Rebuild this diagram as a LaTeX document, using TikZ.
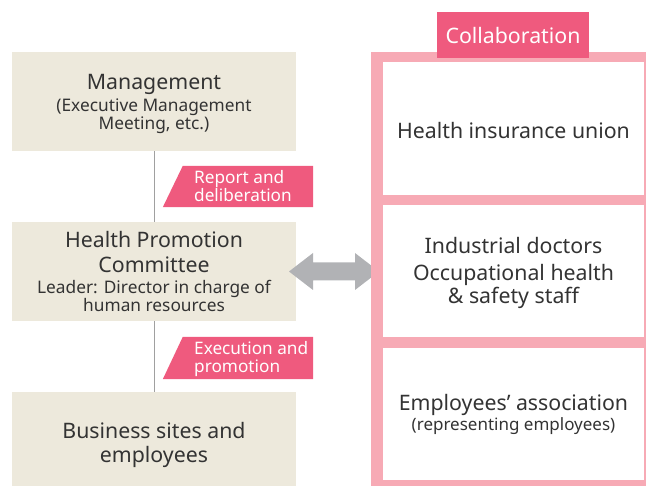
\documentclass[tikz,border=0pt]{standalone}
\usepackage{fontspec}
\setmainfont{Noto Sans}
\definecolor{beige}{HTML}{EDE9DC}
\definecolor{lblpink}{HTML}{EF5A7E}
\definecolor{frpink}{HTML}{F7AAB5}
\definecolor{arrgray}{HTML}{B1B2B5}
\definecolor{txt}{HTML}{333333}
\definecolor{linegray}{HTML}{A0A0A0}
\tikzset{
  leftbox/.style={fill=beige, inner sep=0pt, minimum width=284pt},
  rightbox/.style={fill=white, inner sep=0pt, minimum width=261pt},
  big/.style={text=txt, inner sep=0pt, anchor=base, font=\fontsize{21.3}{24}\selectfont},
  small/.style={text=txt, inner sep=0pt, anchor=base, font=\fontsize{17.3}{20}\selectfont},
  tiny/.style={text=txt, inner sep=0pt, anchor=base, font=\fontsize{17}{20}\selectfont},
  lbltext/.style={text=white, inner sep=0pt, anchor=base west, font=\fontsize{17.2}{19}\selectfont},
}
\begin{document}
\begin{tikzpicture}[x=1pt,y=-1pt]
\useasboundingbox (0,0) rectangle (646,486);
% left boxes
\node[leftbox, minimum height=99pt] (mgmt) at (154,101.5) {};
\node[big] (m1) at (154,90) {Management};
\node[small] (m2) at (154,112) {(Executive Management};
\node[small] (m3) at (154,129.5) {Meeting, etc.)};
\node[leftbox, minimum height=99pt] (hpc) at (154,271.5) {};
\node[big] (h1) at (154,247.7) {Health Promotion};
\node[big] (h2) at (154,272.3) {Committee};
\node[small] (h3) at (154,294) {Leader: Director in charge of};
\node[small] (h4) at (154,311.7) {human resources};
\node[leftbox, minimum height=94pt] (biz) at (154,439) {};
\node[big] (b1) at (154,438.3) {Business sites and};
\node[big] (b2) at (154,462.7) {employees};
% connectors
\draw[linegray, line width=1pt] (mgmt.south) -- (hpc.north);
\draw[linegray, line width=1pt] (hpc.south) -- (biz.north);
% pink labels
\node[inner sep=0pt, minimum width=150pt, minimum height=41pt] (rep) at (238,186.5) {};
\fill[lblpink] ([xshift=20pt]rep.north west) -- (rep.north east) -- (rep.south east) -- (rep.south west) -- cycle;
\node[lbltext] (rep1) at (194,183.3) {Report and};
\node[lbltext] (rep2) at (194,201.3) {deliberation};
\node[inner sep=0pt, minimum width=150pt, minimum height=42pt] (exe) at (238,358) {};
\fill[lblpink] ([xshift=20pt]exe.north west) -- (exe.north east) -- (exe.south east) -- (exe.south west) -- cycle;
\node[lbltext] (exe1) at (194,355) {Execution and};
\node[lbltext] (exe2) at (194,372.5) {promotion};
% double arrow
\fill[arrgray] (289,271.5) -- (313,253) -- (313,262.5) -- (355,262.5) -- (355,253) -- (379,271.5) -- (355,290) -- (355,280.5) -- (313,280.5) -- (313,290) -- cycle;
% right frame
\fill[frpink] (371,52) rectangle (646,486);
\node[rightbox, minimum height=133pt] (hiu) at (513.5,128.5) {};
\node[big] (hiu1) at (513.5,138.3) {Health insurance union};
\node[rightbox, minimum height=132pt] (ind) at (513.5,271) {};
\node[big] (ind1) at (513.5,254) {Industrial doctors};
\node[big] (ind2) at (513.5,280.7) {Occupational health};
\node[big] (ind3) at (513.5,304) {\& safety staff};
\node[rightbox, minimum height=132pt] (emp) at (513.5,414) {};
\node[big] (emp1) at (513.5,410.7) {Employees’ association};
\node[tiny] (emp2) at (513.5,430.7) {(representing employees)};
% collaboration label
\node[fill=lblpink, inner sep=0pt, minimum width=152pt, minimum height=46pt] (col) at (513,35) {};
\node[big, text=white] (colt) at (513,43.3) {Collaboration};
\end{tikzpicture}
\end{document}
